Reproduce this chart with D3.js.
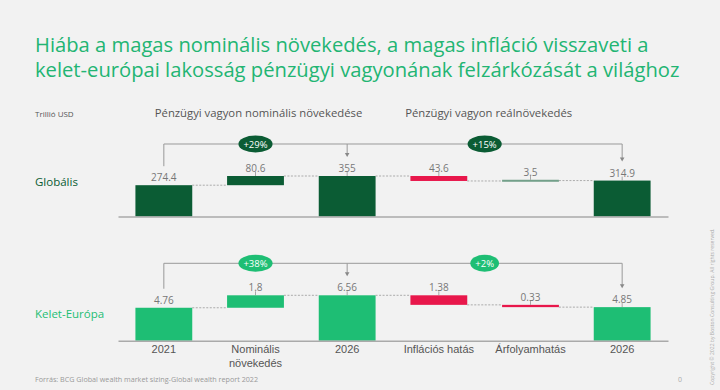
<!DOCTYPE html>
<html>
<head>
<meta charset="utf-8">
<script src="https://cdn.jsdelivr.net/npm/d3@7"></script>
<style>
  body { margin: 0; background: #f2f2f2; }
  svg { display: block; font-family: "Open Sans", "DejaVu Sans", sans-serif; }
</style>
</head>
<body>
<svg id="chart"></svg>
<script>
var categories = ["2021", "Nominális\nnövekedés", "2026", "Inflációs hatás", "Árfolyamhatás", "2026"];
var barKinds = ["total", "delta", "total", "delta", "delta", "total"];
var globalValues = [274.4, 80.6, 355, -43.6, 3.5, 314.9];
var eastValues = [4.76, 1.8, 6.56, -1.38, -0.33, 4.85];
var globalGrowth = ["+29%", "+15%"];
var eastGrowth = ["+38%", "+2%"];
var sectionTitles = ["Pénzügyi vagyon nominális növekedése", "Pénzügyi vagyon reálnövekedés"];

var width = 720, height = 390;
var darkGreen = "#0b5c34", lightGreen = "#1ebe74", red = "#e8174b";

var svg = d3.select("#chart").attr("width", width).attr("height", height);
svg.append("rect").attr("width", width).attr("height", height).attr("fill", "#f2f2f2");

// title
var title = svg.append("text").attr("fill", "#22b573").style("font-size", "20.2px");
title.append("tspan").attr("x", 35).attr("y", 52).text("Hiába a magas nominális növekedés, a magas infláció visszaveti a");
title.append("tspan").attr("x", 35).attr("y", 77).text("kelet-európai lakosság pénzügyi vagyonának felzárkózását a világhoz");

svg.append("text").attr("x", 35).attr("y", 117).attr("fill", "#555")
  .style("font-size", "8px").text("Trillió USD");

var x = d3.scaleBand().domain(d3.range(categories.length)).range([118, 668])
  .paddingInner(0.38).paddingOuter(0.19);

function cx(i) { return x(i) + x.bandwidth() / 2; }

// section headers over the two growth brackets
svg.selectAll(".section")
  .data(sectionTitles)
  .enter().append("text")
  .attr("class", "section")
  .attr("x", function(d, i) { return i == 0 ? (cx(0) + cx(2)) / 2 + 3 : (cx(2) + cx(5)) / 2 + 4; })
  .attr("y", 117)
  .attr("text-anchor", "middle")
  .attr("fill", "#555")
  .style("font-size", "11.3px")
  .text(function(d) { return d; });

function drawPanel(values, growth, name, color, badgeColor, yRange, labelY, showLabels) {
  var y = d3.scaleLinear().domain([0, d3.max(values)]).range(yRange);
  var g = svg.append("g");

  // waterfall segments
  var running = 0;
  var bars = values.map(function(v, i) {
    var from, to;
    if (barKinds[i] == "total") { from = 0; to = v; running = v; }
    else { from = running; to = running + v; running = to; }
    return { i: i, v: v, from: from, to: to, total: running };
  });

  bars.forEach(function(b) {
    var y0 = y(Math.max(b.from, b.to)), y1 = y(Math.min(b.from, b.to));
    var h = y1 - y0;
    if (h < 2) { y0 = (y0 + y1) / 2 - 1; h = 2; }
    b.top = y0;
    b.labelTop = y0 - 4 - 8;
    g.append("rect")
      .attr("x", x(b.i))
      .attr("y", y0)
      .attr("width", x.bandwidth())
      .attr("height", h)
      .attr("fill", b.v < 0 ? red : color)
      .attr("fill-opacity", (h <= 2 && b.v > 0) ? 0.55 : 1);
  });

  // dotted connectors between bars
  for (var i = 0; i < bars.length - 1; i++) {
    g.append("line")
      .attr("x1", x(i) + x.bandwidth()).attr("x2", x(i + 1))
      .attr("y1", y(bars[i].total)).attr("y2", y(bars[i].total))
      .attr("stroke", "#999").attr("stroke-width", 0.8).attr("stroke-dasharray", "2,1.5");
  }

  // axis
  var axis = d3.axisBottom(x).tickSize(0).tickPadding(5)
    .tickFormat(function(d) { return showLabels ? categories[d] : ""; });
  var ax = g.append("g")
    .attr("transform", "translate(0," + yRange[0] + ")")
    .call(axis);
  ax.select(".domain").attr("stroke", "#aaa").attr("stroke-width", 1.5);
  ax.selectAll("text")
    .attr("fill", "#555")
    .style("font-size", "11px")
    .style("font-family", "inherit")
    .each(function(d) {
      var lines = categories[d].split("\n");
      if (!showLabels || lines.length < 2) return;
      var t = d3.select(this).text("");
      lines.forEach(function(l, k) {
        t.append("tspan").attr("x", 0).attr("dy", k == 0 ? "0.71em" : "1.25em").text(l);
      });
      t.attr("dy", null);
    });

  // value labels
  bars.forEach(function(b) {
    g.append("text")
      .attr("x", cx(b.i)).attr("y", b.top - 4)
      .attr("text-anchor", "middle")
      .attr("fill", "#777")
      .style("font-size", "10px")
      .text(String(Math.abs(b.v)));
    if (b.i > 0) {
      g.append("line")
        .attr("x1", cx(b.i)).attr("x2", cx(b.i))
        .attr("y1", b.top - 4).attr("y2", b.top)
        .attr("stroke", "#888").attr("stroke-width", 0.7);
    }
  });

  // growth bracket
  var by = y(d3.max(values)) - 32;
  var bracket = "#999";
  g.append("line")
    .attr("x1", cx(0)).attr("x2", cx(5)).attr("y1", by).attr("y2", by)
    .attr("stroke", bracket).attr("stroke-width", 1);
  g.append("line")
    .attr("x1", cx(0)).attr("x2", cx(0)).attr("y1", by).attr("y2", bars[0].labelTop - 7)
    .attr("stroke", bracket).attr("stroke-width", 1);
  [2, 5].forEach(function(i) {
    var end = bars[i].labelTop - 7;
    g.append("line")
      .attr("x1", cx(i)).attr("x2", cx(i)).attr("y1", by).attr("y2", end - 3)
      .attr("stroke", bracket).attr("stroke-width", 1);
    g.append("path")
      .attr("d", "M" + (cx(i) - 2.3) + "," + (end - 4) + "L" + (cx(i) + 2.3) + "," + (end - 4) + "L" + cx(i) + "," + end + "Z")
      .attr("fill", "#888");
  });

  // growth badges
  var mids = [(cx(0) + cx(2)) / 2, (cx(2) + cx(5)) / 2];
  growth.forEach(function(txt, k) {
    var bg = g.append("ellipse").attr("cx", mids[k]).attr("cy", by).attr("fill", badgeColor);
    var t = g.append("text")
      .attr("x", mids[k]).attr("y", by + 3.5)
      .attr("text-anchor", "middle")
      .attr("fill", "#fff")
      .style("font-size", "9.5px")
      .text(txt);
    var w = t.node().getComputedTextLength();
    bg.attr("rx", w / 2 + 5).attr("ry", 8.5);
  });

  // row label
  svg.append("text")
    .attr("x", 35).attr("y", labelY)
    .attr("fill", color)
    .style("font-size", "11.5px")
    .text(name);
}

drawPanel(globalValues, globalGrowth, "Globális", darkGreen, darkGreen, [216.5, 176], 186, false);
drawPanel(eastValues, eastGrowth, "Kelet-Európa", lightGreen, lightGreen, [340.7, 295.3], 318, true);

svg.append("text").attr("x", 35).attr("y", 382).attr("fill", "#999")
  .style("font-size", "7.2px").text("Forrás: BCG Global wealth market sizing-Global wealth report 2022");
svg.append("text").attr("x", 678).attr("y", 382).attr("fill", "#aaa")
  .style("font-size", "7px").text("0");
svg.append("text").attr("transform", "translate(714,385) rotate(-90)").attr("fill", "#aaa")
  .style("font-size", "5.1px").text("Copyright © 2022 by Boston Consulting Group. All rights reserved.");
</script>
</body>
</html>
